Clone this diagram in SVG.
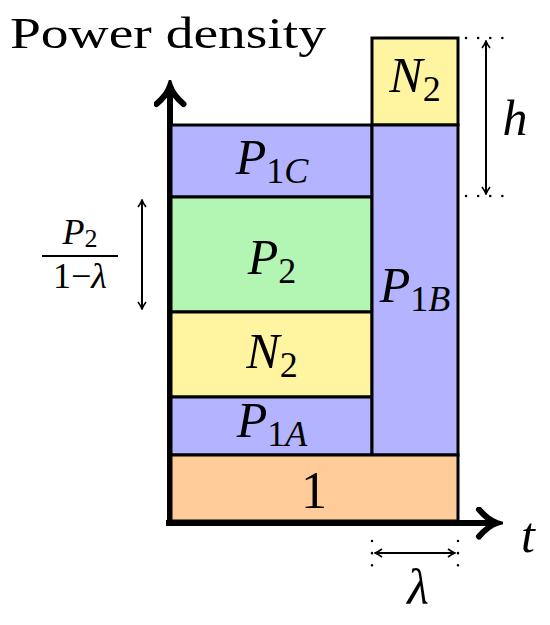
<svg xmlns="http://www.w3.org/2000/svg" width="550" height="625" viewBox="0 0 550 625">
<style>
.box{stroke:#000;stroke-width:3}
.blue{fill:#B3B3FF}.green{fill:#B3F5B3}.yellow{fill:#FFF5A0}.orange{fill:#FFCC99}
text{font-family:"Liberation Serif","Times New Roman",serif;fill:#000}
.m{font-style:italic}
.n{font-style:normal}
.dim{stroke:#000;stroke-width:2;fill:none}
.dot{stroke:#000;stroke-width:2.5;stroke-dasharray:0.1 12;stroke-linecap:round;fill:none}
</style>
<defs>
<marker id="ch" viewBox="0 0 10 10" refX="9" refY="5" markerWidth="10" markerHeight="10" markerUnits="userSpaceOnUse" orient="auto-start-reverse">
<path d="M2,1 Q6,4 9,5 Q6,6 2,9" fill="none" stroke="#000" stroke-width="1.6"/>
</marker>
<marker id="ax" viewBox="0 0 10 10" refX="8" refY="5" markerWidth="5" markerHeight="5.5" orient="auto">
<path d="M2,0.5 Q5,4 8,5 Q5,6 2,9.5" fill="none" stroke="#000" stroke-width="2" stroke-linecap="round"/>
</marker>
</defs>
<text x="10" y="48" font-size="44" textLength="316" lengthAdjust="spacingAndGlyphs">Power density</text>
<g id="connectors">
<line x1="170" y1="526" x2="170" y2="86" stroke="#000" stroke-width="6" marker-end="url(#ax)"/>
<line x1="166" y1="523" x2="497" y2="523" stroke="#000" stroke-width="6" marker-end="url(#ax)"/>
<line class="dim" x1="486" y1="41" x2="486" y2="194" marker-start="url(#ch)" marker-end="url(#ch)"/>
<line class="dim" x1="142" y1="200" x2="142" y2="309" marker-start="url(#ch)" marker-end="url(#ch)"/>
<line class="dim" x1="375" y1="553" x2="455" y2="553" marker-start="url(#ch)" marker-end="url(#ch)"/>
<line class="dot" x1="466" y1="38" x2="510" y2="38"/>
<line class="dot" x1="466" y1="196" x2="510" y2="196"/>
<line class="dot" x1="372" y1="541" x2="372" y2="566"/>
<line class="dot" x1="458" y1="541" x2="458" y2="566"/>
</g>
<g id="p1c"><rect class="box blue" x="171" y="125" width="201" height="72"/><text class="m" x="272" y="174" font-size="50" text-anchor="middle">P<tspan class="n" font-size="36" dy="9">1</tspan><tspan font-size="36">C</tspan></text></g>
<g id="p2"><rect class="box green" x="171" y="197" width="201" height="115"/><text class="m" x="272" y="274" font-size="50" text-anchor="middle">P<tspan class="n" font-size="36" dy="9">2</tspan></text></g>
<g id="n2a"><rect class="box yellow" x="171" y="312" width="201" height="85"/><text class="m" x="272" y="368" font-size="50" text-anchor="middle">N<tspan class="n" font-size="36" dy="9">2</tspan></text></g>
<g id="p1a"><rect class="box blue" x="171" y="397" width="201" height="58"/><text class="m" x="272" y="437" font-size="50" text-anchor="middle">P<tspan class="n" font-size="36" dy="9">1</tspan><tspan font-size="36">A</tspan></text></g>
<g id="n2b"><rect class="box yellow" x="372" y="38" width="86" height="87"/><text class="m" x="415" y="92" font-size="50" text-anchor="middle">N<tspan class="n" font-size="36" dy="9">2</tspan></text></g>
<g id="p1b"><rect class="box blue" x="372" y="125" width="86" height="330"/><text class="m" x="415" y="302" font-size="50" text-anchor="middle">P<tspan class="n" font-size="36" dy="9">1</tspan><tspan font-size="36">B</tspan></text></g>
<g id="one"><rect class="box orange" x="171" y="455" width="287" height="66"/><text x="314" y="508" font-size="52" text-anchor="middle">1</text></g>
<g id="labels">
<text class="m" x="528" y="552" font-size="50" text-anchor="middle">t</text>
<text class="m" x="515" y="135" font-size="50" text-anchor="middle">h</text>
<text class="m" x="418" y="604" font-size="50" text-anchor="middle">λ</text>
<text class="m" x="80" y="244" font-size="36" text-anchor="middle">P<tspan class="n" font-size="26" dy="3">2</tspan></text>
<line x1="42" y1="256" x2="118" y2="256" stroke="#000" stroke-width="2"/>
<text x="80" y="288" font-size="36" text-anchor="middle">1−<tspan class="m">λ</tspan></text>
</g>
</svg>
